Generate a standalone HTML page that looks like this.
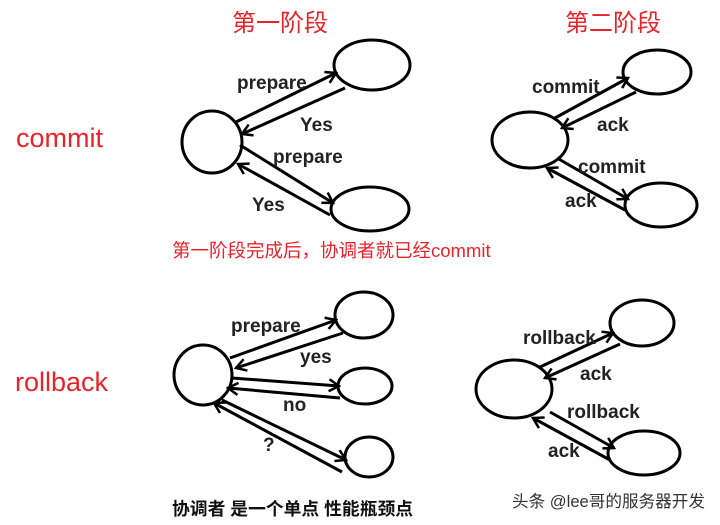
<!DOCTYPE html>
<html><head><meta charset="utf-8"><style>
html,body{margin:0;padding:0;background:#fff;}
svg{display:block;}
.l{font-family:"Liberation Sans",sans-serif;font-weight:bold;font-size:19px;fill:#222;}
.r{font-family:"Liberation Sans","Noto Sans CJK SC",sans-serif;fill:#e8232b;}
</style></head><body>
<svg width="720" height="525" viewBox="0 0 720 525" xmlns="http://www.w3.org/2000/svg">
<defs>
<marker id="a" markerWidth="14" markerHeight="14" refX="12" refY="7" orient="auto" markerUnits="userSpaceOnUse">
<polyline points="2,1 12,7 2,13" fill="none" stroke="#000" stroke-width="2.5"/>
</marker>
</defs>
<g fill="none" stroke="#000" stroke-width="3">
<ellipse cx="212" cy="142" rx="30" ry="31"/>
<ellipse cx="372" cy="65" rx="38" ry="25"/>
<ellipse cx="370" cy="209" rx="39" ry="22"/>
<line x1="236" y1="122" x2="336" y2="73" marker-end="url(#a)"/>
<line x1="345" y1="88" x2="242" y2="134" marker-end="url(#a)"/>
<line x1="240" y1="145" x2="333" y2="203" marker-end="url(#a)"/>
<line x1="330" y1="215" x2="238" y2="164" marker-end="url(#a)"/>
<ellipse cx="530" cy="140" rx="38" ry="28"/>
<ellipse cx="657" cy="72" rx="34" ry="22"/>
<ellipse cx="661" cy="205" rx="36" ry="22"/>
<line x1="555" y1="118" x2="628" y2="78" marker-end="url(#a)"/>
<line x1="636" y1="92" x2="562" y2="128" marker-end="url(#a)"/>
<line x1="557" y1="158" x2="628" y2="199" marker-end="url(#a)"/>
<line x1="625" y1="210" x2="547" y2="168" marker-end="url(#a)"/>
<ellipse cx="203" cy="375" rx="29" ry="30"/>
<ellipse cx="364" cy="315" rx="29" ry="23"/>
<ellipse cx="365" cy="386" rx="27" ry="18"/>
<ellipse cx="369" cy="457" rx="24" ry="20"/>
<line x1="230" y1="358" x2="336" y2="320" marker-end="url(#a)"/>
<line x1="343" y1="333" x2="236" y2="368" marker-end="url(#a)"/>
<line x1="232" y1="378" x2="339" y2="386" marker-end="url(#a)"/>
<line x1="340" y1="398" x2="228" y2="388" marker-end="url(#a)"/>
<line x1="222" y1="400" x2="346" y2="460" marker-end="url(#a)"/>
<line x1="342" y1="472" x2="214" y2="403" marker-end="url(#a)"/>
<ellipse cx="514" cy="389" rx="38" ry="29"/>
<ellipse cx="642" cy="323" rx="32" ry="23"/>
<ellipse cx="644" cy="453" rx="36" ry="22"/>
<line x1="540" y1="367" x2="613" y2="333" marker-end="url(#a)"/>
<line x1="620" y1="344" x2="545" y2="378" marker-end="url(#a)"/>
<line x1="550" y1="412" x2="614" y2="448" marker-end="url(#a)"/>
<line x1="610" y1="460" x2="533" y2="418" marker-end="url(#a)"/>
</g>
<text class="l" x="237" y="89">prepare</text>
<text class="l" x="300" y="131">Yes</text>
<text class="l" x="273" y="163">prepare</text>
<text class="l" x="252" y="211">Yes</text>
<text class="l" x="532" y="93">commit</text>
<text class="l" x="597" y="131">ack</text>
<text class="l" x="578" y="173">commit</text>
<text class="l" x="565" y="207">ack</text>
<text class="l" x="231" y="332">prepare</text>
<text class="l" x="300" y="363">yes</text>
<text class="l" x="283" y="411">no</text>
<text class="l" x="263" y="451">?</text>
<text class="l" x="523" y="344">rollback</text>
<text class="l" x="580" y="380">ack</text>
<text class="l" x="567" y="418">rollback</text>
<text class="l" x="548" y="457">ack</text>
<text class="r" x="232" y="31" font-size="24">第一阶段</text>
<text class="r" x="565" y="31" font-size="24">第二阶段</text>
<text class="r" x="16" y="147" font-size="27">commit</text>
<text class="r" x="15" y="391" font-size="27">rollback</text>
<text class="r" x="172" y="257" font-size="18.5">第一阶段完成后，协调者就已经commit</text>
<text x="172" y="515" font-family="Liberation Sans,'Noto Sans CJK SC',sans-serif" font-weight="bold" font-size="17.8" fill="#111">协调者 是一个单点 性能瓶颈点</text>
<text x="512" y="507" font-family="Liberation Sans,'Noto Sans CJK SC',sans-serif" font-size="16.6" fill="#333">头条 @lee哥的服务器开发</text>
</svg>
</body></html>
